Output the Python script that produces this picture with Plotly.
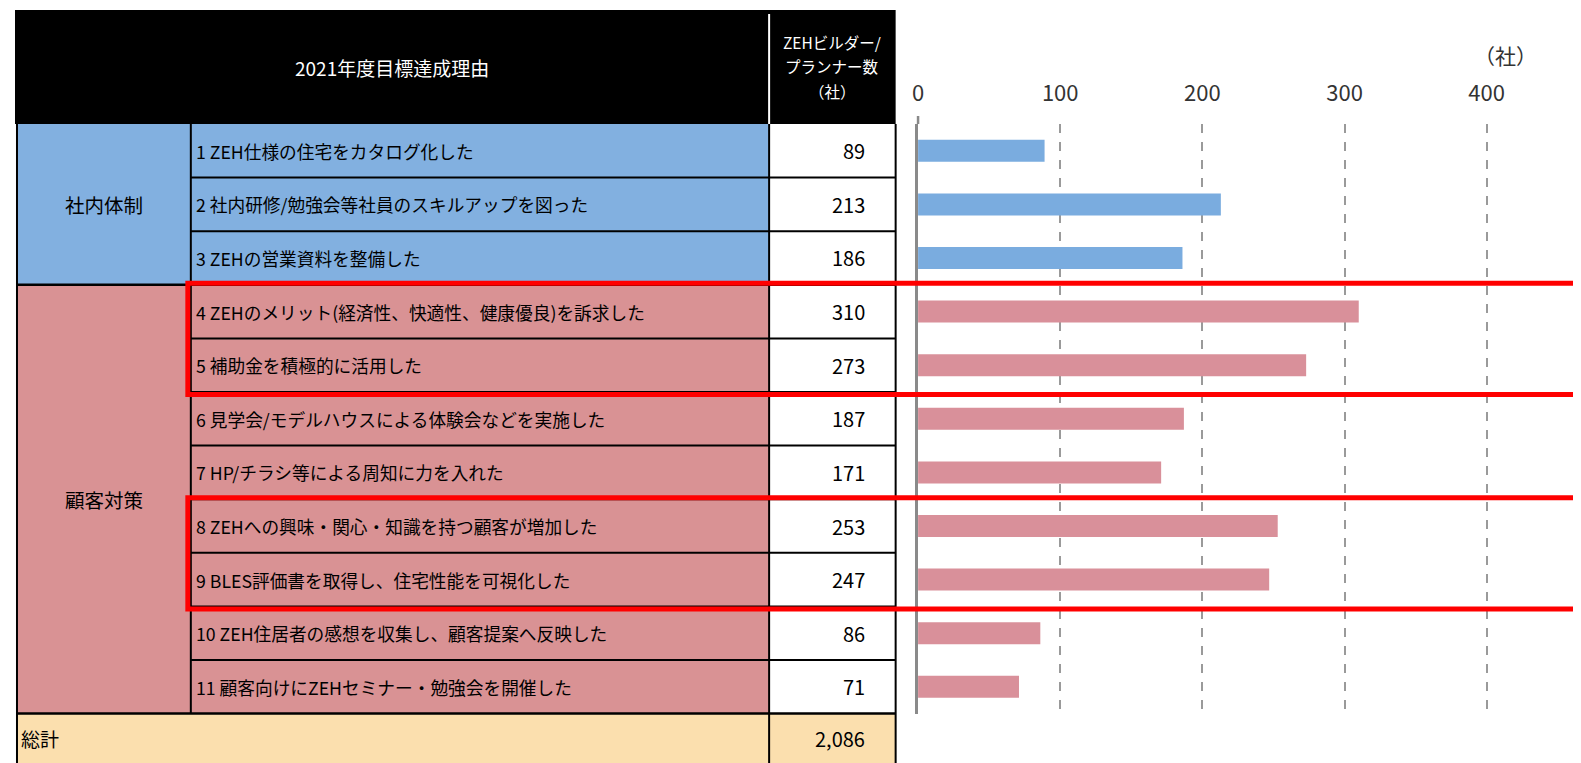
import plotly.graph_objects as go

# ---------------- data ----------------
header_title = "2021年度目標達成理由"
header_count = ["ZEHビルダー/", "プランナー数", "（社）"]
group_names = ["社内体制", "顧客対策"]
item_group = [0, 0, 0, 1, 1, 1, 1, 1, 1, 1, 1]
labels = [
    "1 ZEH仕様の住宅をカタログ化した",
    "2 社内研修/勉強会等社員のスキルアップを図った",
    "3 ZEHの営業資料を整備した",
    "4 ZEHのメリット(経済性、快適性、健康優良)を訴求した",
    "5 補助金を積極的に活用した",
    "6 見学会/モデルハウスによる体験会などを実施した",
    "7 HP/チラシ等による周知に力を入れた",
    "8 ZEHへの興味・関心・知識を持つ顧客が増加した",
    "9 BLES評価書を取得し、住宅性能を可視化した",
    "10 ZEH住居者の感想を収集し、顧客提案へ反映した",
    "11 顧客向けにZEHセミナー・勉強会を開催した",
]
values = [89, 213, 186, 310, 273, 187, 171, 253, 247, 86, 71]
total_label = "総計"
total_value = 2086
highlight_blocks = [(4, 5), (8, 9)]  # item numbers boxed in red
x_ticks = [0, 100, 200, 300, 400]
unit_label = "（社）"

# ---------------- style ----------------
W, H = 1581, 763
OFF = 8  # default page body margin
FONT = "Noto Sans CJK JP"
cell_fill = ["#82B0E0", "#D99294"]
bar_fill = ["#7AACDF", "#D9909A"]
total_fill = "#FBDFAE"

def X(px):
    return (px - OFF) / W

def Y(py):
    return 1 - (py - OFF) / H

# table geometry (pixels in the final screenshot)
tab_left, col1, col2, tab_right = 11, 185.5, 766, 893
hdr_left, hdr_top, body_top = 9, 10, 124
row_h = 53.6
n = len(labels)
body_bot = body_top + n * row_h
row_y = [body_top + (i + 0.5) * row_h for i in range(n)]

shapes = []
annots = []

def rect(x0, y0, x1, y1, fill, line_w=0, line_c="black"):
    shapes.append(dict(type="rect", xref="paper", yref="paper",
                       x0=X(x0), x1=X(x1), y0=Y(y1), y1=Y(y0),
                       fillcolor=fill, line=dict(width=line_w, color=line_c),
                       layer="above"))

def line(x0, y0, x1, y1, w=2, c="black"):
    shapes.append(dict(type="line", xref="paper", yref="paper",
                       x0=X(x0), x1=X(x1), y0=Y(y0), y1=Y(y1),
                       line=dict(color=c, width=w), layer="above"))

def text(t, x, y, size=17, color="black", anchor="left"):
    annots.append(dict(text=t, x=X(x), y=Y(y), xref="paper", yref="paper",
                       showarrow=False, xanchor=anchor, yanchor="middle",
                       font=dict(family=FONT, size=size, color=color)))

# header
rect(hdr_left, hdr_top, tab_right, body_top, "black")
line(col2, 14, col2, body_top, w=2, c="white")
text(header_title, (hdr_left + col2) / 2, 68, size=19, color="white", anchor="center")
for k, t in enumerate(header_count):
    text(t, (col2 + tab_right) / 2, 42 + k * 24.5, size=15.5, color="white", anchor="center")

# group cells
for g, name in enumerate(group_names):
    idx = [i for i, gg in enumerate(item_group) if gg == g]
    y0 = body_top + idx[0] * row_h
    y1 = body_top + (idx[-1] + 1) * row_h
    rect(tab_left, y0, col2, y1, cell_fill[g])
    text(name, (tab_left + col1) / 2, (y0 + y1) / 2, size=19.5, anchor="center")

# value column
rect(col2, body_top, tab_right, body_bot, "white")
# total row
rect(tab_left, body_bot, tab_right, H + 10, total_fill)

# row texts
for i in range(n):
    text(labels[i], col1 + 3, row_y[i], size=17.7)
    text(str(values[i]), 864, row_y[i], size=20, anchor="right")
text(total_label, tab_left + 2, (body_bot + H) / 2, size=19)
text(f"{total_value:,}", 864, (body_bot + H) / 2, size=20, anchor="right")

# grid lines of table
for i in range(1, n):
    yb = body_top + i * row_h
    if item_group[i] != item_group[i - 1]:
        line(tab_left, yb, tab_right, yb, w=2.5)
    else:
        line(col1, yb, tab_right, yb, w=2)
line(tab_left, body_bot, tab_right, body_bot, w=2.5)
line(tab_left, body_top, tab_left, H + 10, w=2)
line(col1, body_top, col1, body_bot, w=2)
line(col2, body_top, col2, H + 10, w=2)
line(tab_right, body_top, tab_right, H + 10, w=2)

# red highlight boxes (open on the right)
for a, b in highlight_blocks:
    y0 = body_top + (a - 1) * row_h - 1.5
    y1 = body_top + b * row_h + 2.5
    x0 = 182.5
    path = (f"M {X(W + 20)},{Y(y0)} L {X(x0)},{Y(y0)} "
            f"L {X(x0)},{Y(y1)} L {X(W + 20)},{Y(y1)}")
    shapes.append(dict(type="path", xref="paper", yref="paper", path=path,
                       line=dict(color="#FF0000", width=5), layer="above"))

# unit label
text(unit_label, 1505, 55, size=21, color="#333", anchor="center")

# ---------------- bar chart ----------------
x0_px = 915.5
px_per_unit = 1.427
x_max = 440

# small stub of the value axis above the plotting area
line(x0_px, 116, x0_px, body_top, w=2.5, c="#8a8a8a")

fig = go.Figure(go.Bar(
    y=list(range(n)), x=values, orientation="h",
    marker=dict(color=[bar_fill[g] for g in item_group], line=dict(width=0)),
    width=0.41, hoverinfo="x",
))

fig.update_layout(
    width=W, height=H, autosize=False,
    margin=dict(l=0, r=0, t=0, b=0),
    paper_bgcolor="white", plot_bgcolor="white",
    showlegend=False,
    shapes=shapes, annotations=annots,
    xaxis=dict(
        domain=[X(x0_px), X(x0_px + x_max * px_per_unit)],
        range=[0, x_max], side="top",
        tickvals=x_ticks, ticktext=[str(v) for v in x_ticks],
        tickfont=dict(family=FONT, size=22, color="#333"),
        ticks="outside", ticklen=13, tickcolor="rgba(0,0,0,0)",
        showgrid=True, gridcolor="#9a9a9a", gridwidth=1.5, griddash="dash",
        zeroline=False, showline=False,
    ),
    yaxis=dict(
        domain=[Y(body_bot), Y(body_top)],
        range=[n - 0.5, -0.5],
        showticklabels=False, ticks="",
        showgrid=False, zeroline=False,
        showline=True, linecolor="#8a8a8a", linewidth=2.5,
    ),
)

fig.write_html("out.html")
